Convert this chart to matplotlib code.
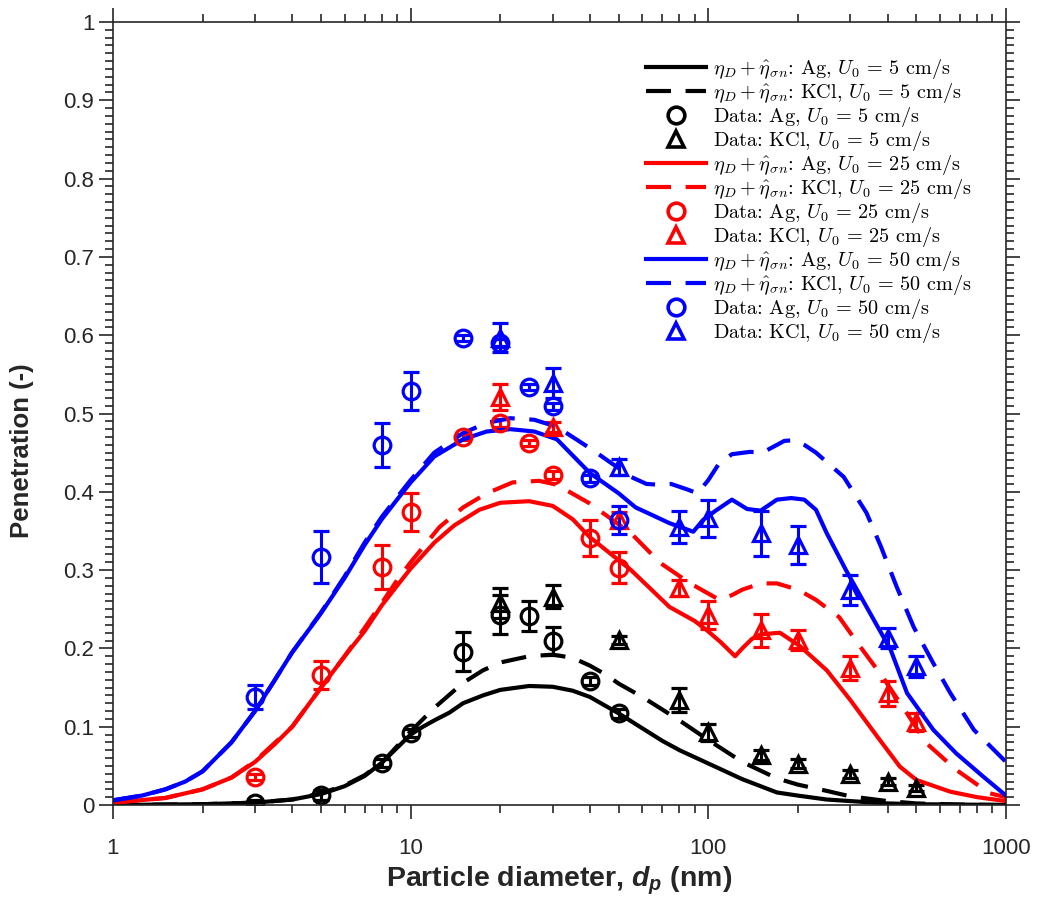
import matplotlib
matplotlib.use("Agg")
import matplotlib.pyplot as plt
from matplotlib import font_manager
from matplotlib.font_manager import FontProperties
from matplotlib.ticker import LogLocator, NullFormatter, MultipleLocator
import numpy as np

# ---------------- data ----------------
# model curves
ag5_x = [1, 2, 3, 4, 5, 6, 7, 8, 9, 10, 11, 12, 13.5, 15, 17.5, 20, 25, 30, 35, 40, 50, 60, 70, 80, 100, 130, 170, 200, 250, 300, 400, 500, 700, 1000]
ag5_y = [0.0, 0.001, 0.003, 0.007, 0.014, 0.024, 0.037, 0.054, 0.073, 0.09, 0.1, 0.108, 0.118, 0.13, 0.14, 0.147, 0.152, 0.151, 0.146, 0.138, 0.117, 0.098, 0.082, 0.07, 0.053, 0.033, 0.016, 0.012, 0.007, 0.005, 0.002, 0.001, 0.0005, 0.0]

kcl5_x = [1, 2, 3, 4, 5, 6, 7, 8, 9, 10, 12, 15, 17.5, 20, 25, 30, 35, 40, 45, 50, 60, 70, 80, 100, 130, 170, 200, 250, 300, 400, 500, 700, 1000]
kcl5_y = [0.0, 0.001, 0.003, 0.007, 0.015, 0.025, 0.038, 0.054, 0.075, 0.094, 0.124, 0.156, 0.172, 0.182, 0.19, 0.192, 0.188, 0.178, 0.167, 0.155, 0.138, 0.122, 0.108, 0.083, 0.055, 0.034, 0.026, 0.018, 0.011, 0.005, 0.002, 0.0005, 0.0]

ag25_x = [1, 1.5, 2, 2.5, 3, 3.5, 4, 5, 6, 7, 8, 9, 10, 12, 14, 17, 20, 25, 30, 35, 40, 55, 74, 90, 99, 110, 123, 130, 140, 150, 174, 203, 250, 300, 370, 440, 500, 650, 800, 1000]
ag25_y = [0.003, 0.009, 0.02, 0.035, 0.055, 0.078, 0.1, 0.15, 0.19, 0.222, 0.255, 0.28, 0.302, 0.335, 0.357, 0.377, 0.386, 0.388, 0.382, 0.365, 0.342, 0.30, 0.253, 0.235, 0.223, 0.208, 0.19, 0.2, 0.212, 0.218, 0.22, 0.203, 0.172, 0.134, 0.087, 0.049, 0.032, 0.017, 0.01, 0.005]

kcl25_x = [1, 1.5, 2, 2.5, 3, 4, 5, 6, 7, 8, 9, 10, 12.5, 15, 18, 22, 27, 31, 40, 55, 69, 87, 100, 109, 120, 130, 150, 170, 200, 230, 275, 324, 386, 465, 540, 680, 880, 1000]
kcl25_y = [0.003, 0.009, 0.02, 0.035, 0.056, 0.1, 0.15, 0.19, 0.226, 0.258, 0.287, 0.31, 0.355, 0.38, 0.398, 0.412, 0.414, 0.409, 0.385, 0.347, 0.309, 0.283, 0.27, 0.262, 0.268, 0.275, 0.283, 0.283, 0.275, 0.262, 0.24, 0.202, 0.163, 0.117, 0.079, 0.045, 0.015, 0.01]

ag50_x = [1, 1.25, 1.5, 1.75, 2, 2.5, 3, 3.5, 4, 5, 6, 7, 8, 9, 10, 12, 15, 18, 21.6, 26, 31, 40, 50, 57, 65, 74, 89, 96, 105, 120, 135, 150, 170, 190, 210, 230, 250, 290, 340, 410, 465, 570, 680, 840, 1000]
ag50_y = [0.006, 0.012, 0.02, 0.03, 0.043, 0.08, 0.12, 0.16, 0.195, 0.245, 0.29, 0.332, 0.365, 0.39, 0.412, 0.445, 0.467, 0.477, 0.48, 0.477, 0.467, 0.424, 0.398, 0.38, 0.37, 0.36, 0.349, 0.364, 0.375, 0.39, 0.378, 0.376, 0.39, 0.392, 0.39, 0.377, 0.347, 0.30, 0.253, 0.198, 0.143, 0.096, 0.066, 0.036, 0.012]

kcl50_x = [1, 1.25, 1.5, 1.75, 2, 2.5, 3, 3.5, 4, 5, 6, 7, 8, 9, 10, 12, 15, 18, 21.6, 26, 31, 41, 55, 62, 69, 75, 85, 92, 100, 109, 120, 138, 152, 180, 195, 210, 230, 285, 340, 380, 430, 490, 570, 650, 780, 1000]
kcl50_y = [0.006, 0.012, 0.02, 0.03, 0.043, 0.08, 0.12, 0.16, 0.195, 0.246, 0.292, 0.335, 0.368, 0.393, 0.415, 0.45, 0.475, 0.488, 0.494, 0.492, 0.483, 0.453, 0.419, 0.41, 0.409, 0.41, 0.403, 0.398, 0.415, 0.437, 0.448, 0.451, 0.45, 0.465, 0.466, 0.46, 0.45, 0.419, 0.373, 0.33, 0.278, 0.227, 0.181, 0.143, 0.096, 0.055]

# measured data
d_ag5 = [3, 5, 8, 10, 15, 20, 25, 30, 40, 50]
p_ag5 = [0.003, 0.013, 0.054, 0.092, 0.196, 0.243, 0.241, 0.209, 0.158, 0.117]
e_ag5 = [0.004, 0.006, 0.005, 0.005, 0.025, 0.025, 0.019, 0.018, 0.005, 0.006]

d_kcl5 = [20, 30, 50, 80, 100, 150, 200, 300, 400, 500]
p_kcl5 = [0.258, 0.266, 0.211, 0.134, 0.093, 0.064, 0.053, 0.04, 0.03, 0.022]
e_kcl5 = [0.019, 0.015, 0.005, 0.015, 0.011, 0.006, 0.006, 0.005, 0.004, 0.004]

d_ag25 = [3, 5, 8, 10, 15, 20, 25, 30, 40, 50]
p_ag25 = [0.036, 0.166, 0.304, 0.374, 0.47, 0.488, 0.462, 0.421, 0.341, 0.303]
e_ag25 = [0.004, 0.018, 0.028, 0.024, 0.004, 0.005, 0.004, 0.005, 0.023, 0.02]

d_kcl25 = [20, 30, 50, 80, 100, 150, 200, 300, 400, 500]
p_kcl25 = [0.521, 0.483, 0.364, 0.277, 0.243, 0.223, 0.211, 0.175, 0.143, 0.106]
e_kcl25 = [0.017, 0.006, 0.01, 0.01, 0.018, 0.021, 0.013, 0.015, 0.016, 0.011]

d_ag50 = [3, 5, 8, 10, 15, 20, 25, 30, 40, 50]
p_ag50 = [0.138, 0.317, 0.46, 0.529, 0.596, 0.59, 0.534, 0.509, 0.417, 0.364]
e_ag50 = [0.015, 0.033, 0.028, 0.024, 0.004, 0.005, 0.004, 0.005, 0.005, 0.018]

d_kcl50 = [20, 30, 50, 80, 100, 150, 200, 300, 400, 500]
p_kcl50 = [0.597, 0.539, 0.432, 0.355, 0.366, 0.347, 0.332, 0.275, 0.213, 0.177]
e_kcl50 = [0.018, 0.019, 0.01, 0.02, 0.024, 0.029, 0.024, 0.019, 0.013, 0.013]

x_ticks = [1, 10, 100, 1000]
x_ticklabels = ["1", "10", "100", "1000"]
y_ticks = [0, 0.1, 0.2, 0.3, 0.4, 0.5, 0.6, 0.7, 0.8, 0.9, 1.0]
y_ticklabels = ["0", "0.1", "0.2", "0.3", "0.4", "0.5", "0.6", "0.7", "0.8", "0.9", "1"]

# ---------------- style ----------------
names = {f.name for f in font_manager.fontManager.ttflist}
base_font = "Liberation Sans Narrow" if "Liberation Sans Narrow" in names else "Liberation Sans"
legend_font = "cmr10" if "cmr10" in names else "DejaVu Serif"
plt.rcParams["font.family"] = [base_font, "DejaVu Sans"]
plt.rcParams["mathtext.fontset"] = "custom"
plt.rcParams["mathtext.it"] = f"{base_font}:italic:bold"
plt.rcParams["mathtext.rm"] = f"{base_font}:bold"
plt.rcParams["mathtext.bf"] = f"{base_font}:bold"

axis_col = (0.15, 0.15, 0.15)
LW = 3.0
DASH = (0, (6.0, 3.5))
MS = 12
MEW = 2.3

fig = plt.figure(figsize=(10.41, 9.11), dpi=100)
ax = fig.add_axes([113 / 1041, 1 - 805 / 911, (1006 - 113) / 1041, (805 - 22) / 911])

series = [
    ((0, 0, 0), ag5_x, ag5_y, kcl5_x, kcl5_y, d_ag5, p_ag5, e_ag5, d_kcl5, p_kcl5, e_kcl5, "5"),
    ((1, 0, 0), ag25_x, ag25_y, kcl25_x, kcl25_y, d_ag25, p_ag25, e_ag25, d_kcl25, p_kcl25, e_kcl25, "25"),
    ((0, 0, 1), ag50_x, ag50_y, kcl50_x, kcl50_y, d_ag50, p_ag50, e_ag50, d_kcl50, p_kcl50, e_kcl50, "50"),
]

handles = []
labels = []
for col, ax_, ay_, kx_, ky_, dA, pA, eA, dK, pK, eK, u in series:
    h1, = ax.plot(ax_, ay_, color=col, lw=LW, solid_joinstyle="round")
    h2, = ax.plot(kx_, ky_, color=col, lw=LW, linestyle=DASH, dash_joinstyle="round")
    ax.errorbar(dA, pA, yerr=eA, fmt="o", color=col, mfc="none", mec=col, ms=MS, mew=MEW,
                elinewidth=2.2, capsize=5.5, capthick=2.2)
    ax.errorbar(dK, pK, yerr=eK, fmt="^", color=col, mfc="none", mec=col, ms=MS, mew=MEW,
                elinewidth=2.2, capsize=5.5, capthick=2.2)
    h3, = ax.plot([], [], "o", mfc="none", mec=col, ms=MS, mew=2.6)
    h4, = ax.plot([], [], "^", mfc="none", mec=col, ms=MS, mew=2.6)
    handles += [h1, h2, h3, h4]
    labels += [
        r"$\eta_D + \hat{\eta}_{\sigma n}$: Ag, $U_0\,=\," + u + r"$ cm/s",
        r"$\eta_D + \hat{\eta}_{\sigma n}$: KCl, $U_0\,=\," + u + r"$ cm/s",
        r"Data: Ag, $U_0\,=\," + u + r"$ cm/s",
        r"Data: KCl, $U_0\,=\," + u + r"$ cm/s",
    ]

ax.set_xscale("log")
ax.set_xlim(1, 1000)
ax.set_ylim(0, 1)
ax.set_xticks(x_ticks)
ax.set_xticklabels(x_ticklabels)
ax.xaxis.set_minor_locator(LogLocator(base=10, subs=np.arange(2, 10)))
ax.xaxis.set_minor_formatter(NullFormatter())
ax.set_yticks(y_ticks)
ax.set_yticklabels(y_ticklabels)
ax.yaxis.set_minor_locator(MultipleLocator(0.01))

ax.tick_params(which="both", direction="out", top=True, right=True, colors=axis_col,
               labelsize=16, width=1.2)
ax.tick_params(which="major", length=10)
ax.tick_params(which="minor", length=6)
ax.tick_params(axis="x", which="major", pad=14)
for s in ax.spines.values():
    s.set_color(axis_col)
    s.set_linewidth(1.2)

ax.set_xlabel(r"Particle diameter, $d_p$ (nm)", fontsize=20.5, fontweight="bold", color=axis_col, labelpad=4)
ax.set_ylabel("Penetration (-)", fontsize=18.5, fontweight="bold", color=axis_col)
ax.yaxis.set_label_coords(-0.089, 0.452)

leg_prop = FontProperties(family=legend_font, size=14.6, math_fontfamily="cm")
leg = ax.legend(handles, labels, loc="upper right", bbox_to_anchor=(0.978, 0.973), frameon=False,
                prop=leg_prop, handlelength=2.95, handletextpad=0.35, labelspacing=0.0,
                borderaxespad=0.3)

fig.savefig("out.png", dpi=100)
